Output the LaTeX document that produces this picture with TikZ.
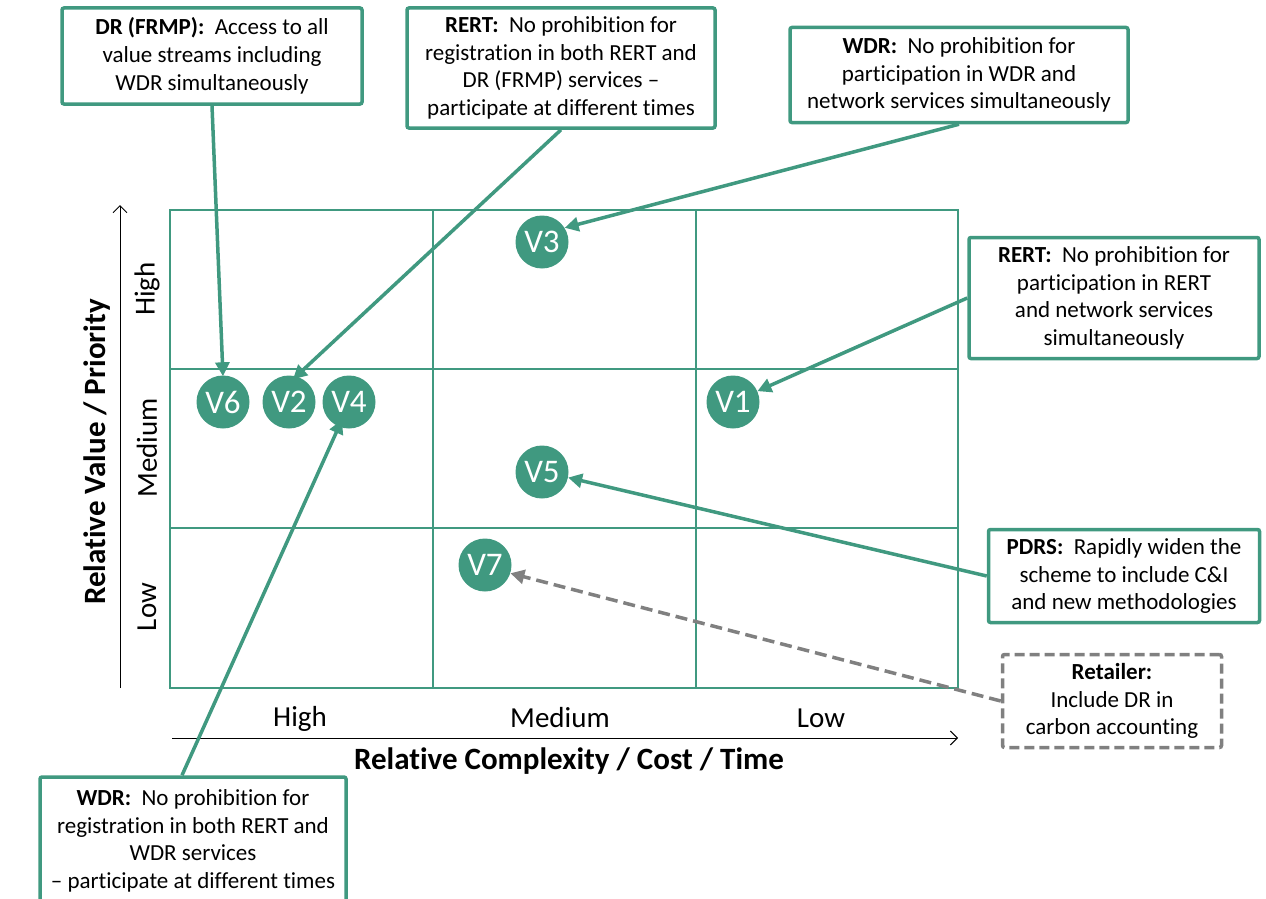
\documentclass[tikz,border=0pt]{standalone}
\usepackage{fontspec}
\setmainfont{Carlito}[Ligatures=NoCommon]
\usetikzlibrary{arrows.meta}
\definecolor{teal1}{RGB}{64,153,128}
\definecolor{grayline}{RGB}{128,128,128}
\tikzset{
  note/.style={draw=teal1, line width=3.5pt, fill=white, rounded corners=2pt,
    align=center, inner sep=0pt, font=\fontsize{23}{27.7}\selectfont,
    execute at begin node={\rule{0pt}{24pt}}},
  dashnote/.style={note, draw=grayline, dash pattern=on 10pt off 5pt},
  vbubble/.style={circle, fill=teal1, minimum size=53pt, inner sep=0pt,
    text=white, font=\fontsize{33}{33}\selectfont},
  link/.style={draw=teal1, line width=3.5pt, -{Triangle[length=14pt,width=14pt]}},
  graylink/.style={draw=grayline, line width=3.5pt, dash pattern=on 12pt off 6pt,
    -{Triangle[length=14pt,width=14pt]}},
  axis/.style={draw=black, line width=1pt, -{Straight Barb[length=7pt,width=14pt]}},
  tick/.style={font=\fontsize{29}{29}\selectfont},
  axistitle/.style={font=\fontsize{31}{31}\selectfont\bfseries},
}
\begin{document}
\begin{tikzpicture}[x=1pt,y=-1pt]
\useasboundingbox (0,0) rectangle (1266,899);

% grid of the matrix
\draw[teal1, line width=1.3pt] (170,210) rectangle (958,688);
\draw[teal1, line width=1.3pt] (433,210) -- (433,688) (696,210) -- (696,688)
  (170,369) -- (958,369) (170,528) -- (958,528);

% axes
\coordinate (xa0) at (172,738);
\coordinate (xa1) at (958,738);
\coordinate (ya0) at (120,688);
\coordinate (ya1) at (120,205);
\draw[axis] (xa0) -- (xa1);
\draw[axis] (ya0) -- (ya1);

% axis tick labels and titles
\node[tick] (cHigh) at (300,719) {High};
\node[tick] (cMed) at (560,718) {Medium};
\node[tick] (cLow) at (821,718) {Low};
\node[tick, rotate=90] (rHigh) at (147,289) {High};
\node[tick, rotate=90] (rMed) at (147,448) {Medium};
\node[tick, rotate=90] (rLow) at (147,607) {Low};
\node[axistitle] (xtitle) at (569,761) {Relative Complexity / Cost / Time};
\node[axistitle, rotate=90] (ytitle) at (97,452) {Relative Value / Priority};

% value bubbles
\node[vbubble] (v6) at (223,402) {V6};
\node[vbubble] (v2) at (289,402) {V2};
\node[vbubble] (v4) at (349,402) {V4};
\node[vbubble] (v3) at (542,242) {V3};
\node[vbubble] (v1) at (733,402) {V1};
\node[vbubble] (v5) at (542,472) {V5};
\node[vbubble] (v7) at (485,565) {V7};

% callout boxes
\node[note, minimum width=300pt, minimum height=96pt] (b1) at (212,56)
  {\textbf{DR (FRMP):}\ \ Access to all\\value streams including\\WDR simultaneously};
\node[note, minimum width=308pt, minimum height=120pt] (b2) at (561,68)
  {\textbf{RERT:}\ \ No prohibition for\\registration in both RERT and\\DR (FRMP) services –\\participate at different times};
\node[note, minimum width=338pt, minimum height=95pt] (b3) at (959,75)
  {\textbf{WDR:}\ \ No prohibition for\\participation in WDR and\\network services simultaneously};
\node[note, minimum width=290pt, minimum height=121pt] (b4) at (1114,298)
  {\textbf{RERT:}\ \ No prohibition for\\participation in RERT\\and network services\\simultaneously};
\node[note, minimum width=271pt, minimum height=93pt] (b5) at (1124,576)
  {\textbf{PDRS:}\ \ Rapidly widen the\\scheme to include C\&I\\and new methodologies};
\node[dashnote, minimum width=219pt, minimum height=93pt] (b6) at (1112,701)
  {\textbf{Retailer:}\\Include DR in\\carbon accounting};
\node[note, minimum width=306pt, minimum height=128pt] (b7) at (193,841)
  {\textbf{WDR:}\ \ No prohibition for\\registration in both RERT and\\WDR services\\– participate at different times};

% connectors
\draw[link] (b1.south) -- ([yshift=-1pt]v6.north);
\draw[link] (b2.south) -- ([xshift=4pt,yshift=-4pt]v2.north);
\draw[link] (b3.south) -- (v3.32);
\draw[link] (b4.west) -- (v1.24);
\draw[link] (b5.west) -- (v5.-12);
\draw[graylink] (b6.west) -- (v7.-18);
\draw[link] ([xshift=-11pt]b7.north) -- ([xshift=-7pt,yshift=9pt]v4.south);
\end{tikzpicture}
\end{document}
